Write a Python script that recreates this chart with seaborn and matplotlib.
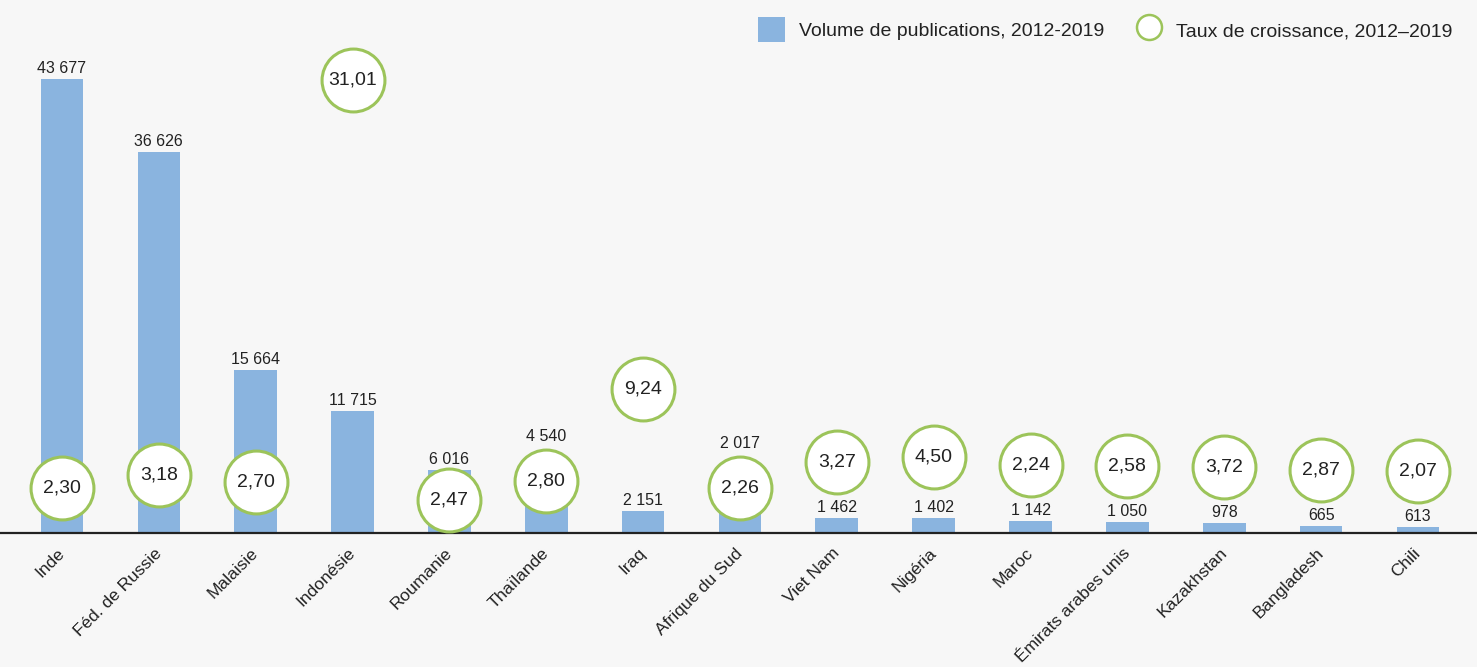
import matplotlib
matplotlib.use("Agg")
import matplotlib.pyplot as plt
import matplotlib.transforms as mtransforms
from matplotlib.lines import Line2D
from matplotlib.patches import Patch
import seaborn as sns
import pandas as pd

countries = ['Inde', 'Féd. de Russie', 'Malaisie', 'Indonésie', 'Roumanie', 'Thaïlande', 'Iraq',
             'Afrique du Sud', 'Viet Nam', 'Nigéria', 'Maroc', 'Émirats arabes unis',
             'Kazakhstan', 'Bangladesh', 'Chili']
publications = [43677, 36626, 15664, 11715, 6016, 4540, 2151, 2017, 1462, 1402, 1142, 1050, 978, 665, 613]
growth = [2.30, 3.18, 2.70, 31.01, 2.47, 2.80, 9.24, 2.26, 3.27, 4.50, 2.24, 2.58, 3.72, 2.87, 2.07]

df = pd.DataFrame({'pays': countries, 'volume': publications, 'croissance': growth})
df['x'] = range(len(df))

BG = '#f7f7f7'
BAR = '#8ab4df'
GREEN = '#9cc45a'
TXT = '#222222'

sns.set_theme(style="white")
plt.rcParams['font.family'] = ['Liberation Sans', 'DejaVu Sans']

fig = plt.figure(figsize=(14.77, 6.67), dpi=100, facecolor=BG)
ax = fig.add_axes([0.0, 0.201, 1.0, 0.799])
ax.set_facecolor(BG)

sns.barplot(data=df, x='pays', y='volume', color=BAR, width=0.44, saturation=1,
            linewidth=0, ax=ax)
ax.set_xlim(-0.64, 14.61)
ax.set_ylim(0, 51280)

ax.set_xlabel('')
ax.set_ylabel('')
ax.set_yticks([])
for s in ['top', 'left', 'right']:
    ax.spines[s].set_visible(False)
ax.spines['bottom'].set_color(TXT)
ax.spines['bottom'].set_linewidth(1.6)
ax.tick_params(axis='x', length=0, pad=9)
offset = mtransforms.ScaledTranslation(4 / 72, 0, fig.dpi_scale_trans)
for lbl in ax.get_xticklabels():
    lbl.set_rotation(45)
    lbl.set_ha('right')
    lbl.set_fontsize(12.5)
    lbl.set_color(TXT)
    lbl.set_transform(lbl.get_transform() + offset)

# growth circles on a secondary scale
ax2 = ax.twinx()
ax2.set_ylim(-0.87, 36.64)
ax2.set_xlim(-0.64, 14.61)
ax2.set_yticks([])
for s in ['top', 'left', 'right', 'bottom']:
    ax2.spines[s].set_visible(False)

# keep circles and bar labels apart (as in the original layout)
R = 33      # circle radius in px
LH = 17     # label height in px
circle_y = []
label_y = []
for i, (v, g) in enumerate(zip(publications, growth)):
    bar_top = ax.transData.transform((i, v))[1]
    c = ax2.transData.transform((i, g))[1]
    lab = bar_top + 3
    if v < 2000:
        c = max(c, lab + LH + R + 3)
    elif c > bar_top and c - R < lab + LH:
        lab = c + R + 4
    elif c <= bar_top and c + R > lab:
        c = lab - R
    circle_y.append(ax2.transData.inverted().transform((0, c))[1])
    label_y.append(ax.transData.inverted().transform((0, lab))[1])
df['cy'] = circle_y

sns.scatterplot(data=df, x='x', y='cy', s=2050, color='white', edgecolor=GREEN,
                linewidth=2.2, zorder=5, ax=ax2, legend=False)
ax2.set_ylabel('')
ax2.set_xlabel('')
for i, g in enumerate(growth):
    ax2.text(i, circle_y[i], f"{g:.2f}".replace('.', ','), ha='center', va='center',
             fontsize=14, color=TXT, zorder=6)
for i, v in enumerate(publications):
    ax.text(i, label_y[i], f"{v:,}".replace(',', ' '), ha='center', va='bottom',
            fontsize=11.5, color=TXT)

handles = [Patch(facecolor=BAR, edgecolor='none'),
           Line2D([], [], marker='o', linestyle='none', markersize=18, markerfacecolor='white',
                  markeredgecolor=GREEN, markeredgewidth=1.8)]
fig.legend(handles, ['Volume de publications, 2012-2019', 'Taux de croissance, 2012\u20132019'],
           loc='upper right', bbox_to_anchor=(0.995, 1.0), ncol=2, frameon=False, fontsize=14,
           handlelength=1.4, handleheight=1.6, columnspacing=1.6, handletextpad=0.7,
           labelcolor=TXT)

fig.savefig('out.png', dpi=100, facecolor=BG)
